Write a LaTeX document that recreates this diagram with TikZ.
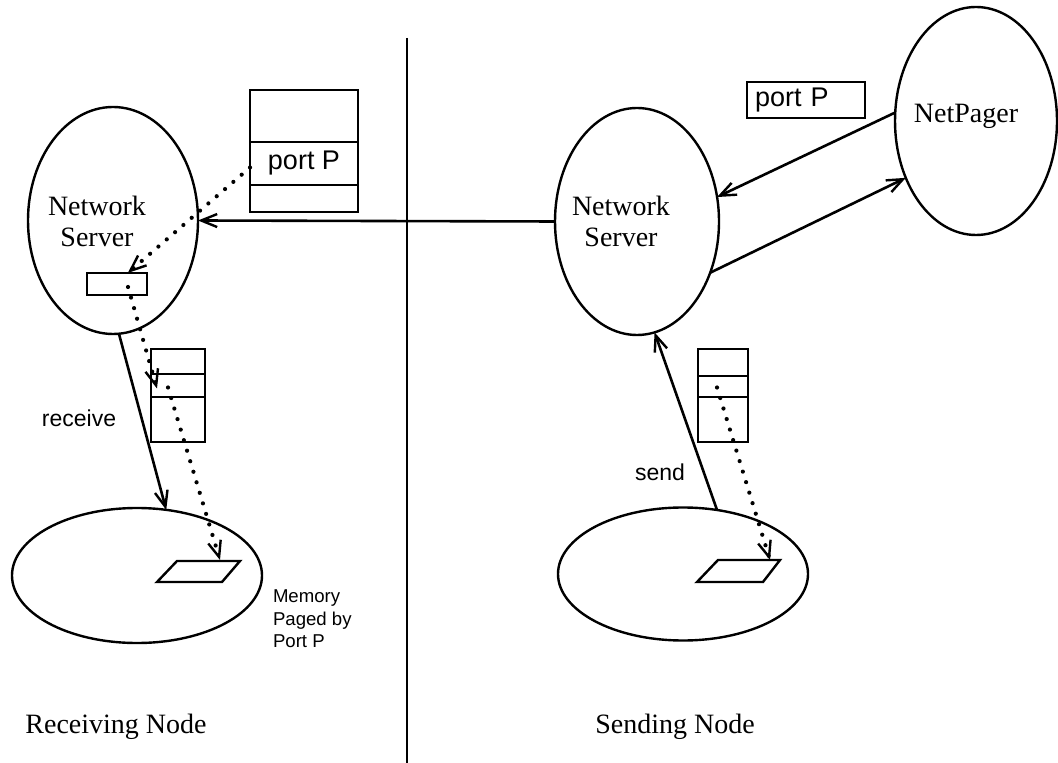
\documentclass[tikz,border=0pt]{standalone}
\usepackage{fontspec}
\setmainfont{Liberation Serif}
\setsansfont{Liberation Sans}
\usetikzlibrary{arrows.meta,shapes.geometric,calc}
\begin{document}
\begin{tikzpicture}[x=0.5pt,y=-0.5pt,
  every node/.style={inner sep=0pt, outer sep=0pt},
  tip/.style={-{Straight Barb[length=8pt,width=6.5pt,line width=1.2pt]}},
  oval/.style={draw, ellipse, line width=1.2pt},
  cell/.style={draw, rectangle, line width=1.2pt},
  link/.style={line width=1.3pt, tip},
  dotlink/.style={line width=2.1pt, line cap=round, dash pattern=on 0pt off 5.5pt, tip},
  serif/.style={font=\fontsize{14pt}{15.5pt}\selectfont, align=center},
  sans/.style={font=\sffamily\fontsize{11.5pt}{13pt}\selectfont},
  porttext/.style={font=\sffamily\fontsize{13.5pt}{15pt}\selectfont}
]
\useasboundingbox (0,0) rectangle (1058,763);

% partition between the two machines
\coordinate (divtop) at (407,38);
\coordinate (divbot) at (407,763);
\draw[line width=1.2pt] (divtop) -- (divbot);

% ---------- receiving node ----------
\node[oval, minimum width=85pt, minimum height=113.5pt] (ls) at (113,220.5) {};
\node[serif] (lslabel) at (97,221) {Network\\Server};
\node[oval, minimum width=125pt, minimum height=67.5pt] (lr) at (137,575.5) {};

% port table of the receiving server
\node[cell, minimum width=54pt, minimum height=26pt] (lstkA) at (304,116) {};
\node[cell, minimum width=54pt, minimum height=21.5pt, porttext] (lstkB) at (304,163.5) {port P};
\node[cell, minimum width=54pt, minimum height=13.5pt] (lstkC) at (304,198.5) {};

% buffer inside the receiving server
\node[cell, minimum width=30pt, minimum height=11pt] (lbuf) at (117,284) {};

% page table of the receiving task
\node[cell, minimum width=27pt, minimum height=12.5pt] (lpA) at (178,361.5) {};
\node[cell, minimum width=27pt, minimum height=11.5pt] (lpB) at (178,385.5) {};
\node[cell, minimum width=27pt, minimum height=22.5pt] (lpC) at (178,419.5) {};

% memory page of the receiving task
\draw[line width=1.2pt] (177,561) -- (240,561) -- (222,582) -- (157,582) -- cycle;
\coordinate (lpg) at (220,560);

\node[sans] (recv) at (79,418) {receive};
\node[font=\sffamily\fontsize{9.3pt}{11.3pt}\selectfont, align=left, anchor=north west] (memtxt) at (273,590) {Memory\\Paged by\\Port P};
\node[font=\fontsize{14pt}{16pt}\selectfont, anchor=base] (rcvnode) at (116,733) {Receiving Node};

% ---------- sending node ----------
\node[oval, minimum width=82pt, minimum height=113.5pt] (rs) at (637,221.5) {};
\node[serif] (rslabel) at (621,221) {Network\\Server};
\node[oval, minimum width=81pt, minimum height=114pt] (np) at (976,121) {};
\node[serif] (nplabel) at (966,116) {NetPager};
\node[oval, minimum width=125pt, minimum height=66.5pt] (rr) at (683,574) {};

\node[cell, minimum width=59pt, minimum height=18pt, porttext, text width=51pt, inner xsep=4pt, align=left] (rport) at (806,100) {port P};

% page table of the sending task
\node[cell, minimum width=25pt, minimum height=13.5pt] (rpA) at (723,362.5) {};
\node[cell, minimum width=25pt, minimum height=10.5pt] (rpB) at (723,386.5) {};
\node[cell, minimum width=25pt, minimum height=22.5pt] (rpC) at (723,419.5) {};

% memory page of the sending task
\draw[line width=1.2pt] (718,560) -- (780,560) -- (763,582) -- (697,582) -- cycle;
\coordinate (rpg) at (770,560);

\node[sans] (snd) at (660,472) {send};
\node[font=\fontsize{14pt}{16pt}\selectfont, anchor=base] (sndnode) at (675,733) {Sending Node};

% ---------- connectors ----------
\draw[link] (rs.west) -- (ls.east);
\draw[link] (np.174) -- (rs.17);
\draw[link] (rs.-35) -- (np.219);
\draw[link] (ls.-87) -- (lr.66);
\draw[link] (rr.62) -- (rs.-81);

\draw[dotlink] ($(lstkB.west)+(0,4)$) -- ($(lbuf.north west)!0.68!(lbuf.north east)$);
\draw[dotlink] ($(lbuf.center)+(11,3)$) -- ($(lpB.west)+(6,3)$);
\draw[dotlink] ($(lpB.center)+(-10,2)$) -- (lpg);
\draw[dotlink] ($(rpB.center)+(-6,1)$) -- (rpg);
\end{tikzpicture}
\end{document}
